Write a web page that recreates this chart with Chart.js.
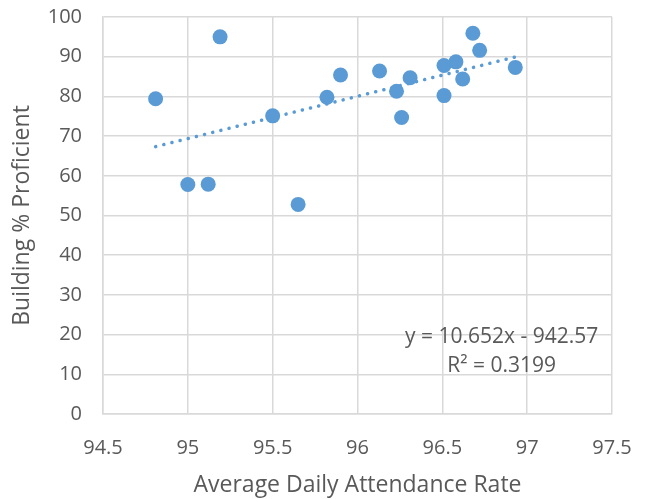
<!DOCTYPE html>
<html>
<head>
<meta charset="utf-8">
<script src="https://cdn.jsdelivr.net/npm/chart.js@4"></script>
<style>
  html, body { margin: 0; padding: 0; background: #fff; }
  #wrap { width: 648px; height: 499px; }
</style>
</head>
<body>
<div id="wrap"><canvas id="scatterChart" width="648" height="499"></canvas></div>
<script>
// attendance rate vs. building % proficient
var attendance = [94.81, 95.00, 95.12, 95.19, 95.50, 95.65, 95.82, 95.90, 96.13, 96.23,
                  96.26, 96.31, 96.51, 96.51, 96.58, 96.62, 96.68, 96.72, 96.93];
var proficient = [79.4, 57.8, 57.9, 95.0, 75.1, 52.8, 79.8, 85.4, 86.4, 81.3,
                  74.7, 84.7, 87.8, 80.2, 88.7, 84.4, 95.9, 91.6, 87.3];

// linear trendline end points
var trendX = [94.81, 96.93];
var trendY = [67.35, 89.93];

var xTicks = [94.5, 95, 95.5, 96, 96.5, 97, 97.5];
var yTicks = [0, 10, 20, 30, 40, 50, 60, 70, 80, 90, 100];

var eqLines = ['y = 10.652x - 942.57', 'R\u00B2 = 0.3199'];

var FONT = '"Open Sans"';
var TXT = '#595959';
var GRID = '#d9d9d9';
var BLUE = '#5b9bd5';

var points = attendance.map(function(x, i) { return { x: x, y: proficient[i] }; });
var trend = trendX.map(function(x, i) { return { x: x, y: trendY[i] }; });

// draws the trendline label inside the plot area
var equationLabel = {
    id: 'equationLabel',
    afterDatasetsDraw: function(chart) {
        var ctx = chart.ctx;
        var xs = chart.scales.x, ys = chart.scales.y;
        ctx.save();
        ctx.fillStyle = TXT;
        ctx.font = '21px ' + FONT;
        ctx.textAlign = 'center';
        ctx.textBaseline = 'middle';
        var cx = xs.getPixelForValue(96.85);
        ctx.fillText(eqLines[0], cx, ys.getPixelForValue(19.3));
        ctx.fillText(eqLines[1], cx, ys.getPixelForValue(12.0));
        ctx.restore();
    }
};

var ctx = document.getElementById('scatterChart').getContext('2d');
var chart = new Chart(ctx, {
    type: 'scatter',
    data: {
        datasets: [
            {
                label: 'Buildings',
                data: points,
                backgroundColor: BLUE,
                borderColor: BLUE,
                borderWidth: 0,
                pointRadius: 7.5,
                pointHoverRadius: 7.5,
                order: 1
            },
            {
                label: 'Linear trend',
                type: 'line',
                data: trend,
                borderColor: BLUE,
                borderWidth: 3.5,
                borderDash: [0.1, 8.3],
                borderCapStyle: 'round',
                pointRadius: 0,
                fill: false,
                order: 2
            }
        ]
    },
    options: {
        responsive: false,
        animation: false,
        devicePixelRatio: 1,
        layout: { padding: { top: 17, right: 36, left: 0, bottom: 0 } },
        plugins: {
            legend: { display: false },
            tooltip: { enabled: false }
        },
        scales: {
            x: {
                type: 'linear',
                min: xTicks[0],
                max: xTicks[xTicks.length - 1],
                afterBuildTicks: function(axis) {
                    axis.ticks = xTicks.map(function(v) { return { value: v }; });
                },
                afterFit: function(axis) {
                    axis.height = 85;
                    axis.paddingLeft = 0;
                    axis.paddingRight = 0;
                },
                grid: { color: GRID, lineWidth: 1.5, drawTicks: false },
                border: { color: GRID, width: 1.5 },
                ticks: {
                    color: TXT,
                    font: { family: FONT, size: 20 },
                    padding: 22,
                    maxRotation: 0,
                    callback: function(v) { return String(v); }
                },
                title: {
                    display: true,
                    text: 'Average Daily Attendance Rate',
                    color: TXT,
                    font: { family: FONT, size: 23 },
                    padding: { top: 8, bottom: 0 }
                }
            },
            y: {
                type: 'linear',
                min: yTicks[0],
                max: yTicks[yTicks.length - 1],
                afterBuildTicks: function(axis) {
                    axis.ticks = yTicks.map(function(v) { return { value: v }; });
                },
                afterFit: function(axis) {
                    axis.width = 103;
                    axis.paddingTop = 0;
                    axis.paddingBottom = 0;
                },
                grid: { color: GRID, lineWidth: 1.5, drawTicks: false },
                border: { color: GRID, width: 1.5 },
                ticks: {
                    color: TXT,
                    font: { family: FONT, size: 20 },
                    padding: 21
                },
                title: {
                    display: true,
                    text: 'Building % Proficient',
                    color: TXT,
                    font: { family: FONT, size: 23 },
                    padding: { top: 9, bottom: 0 }
                }
            }
        }
    },
    plugins: [equationLabel]
});
</script>
</body>
</html>
